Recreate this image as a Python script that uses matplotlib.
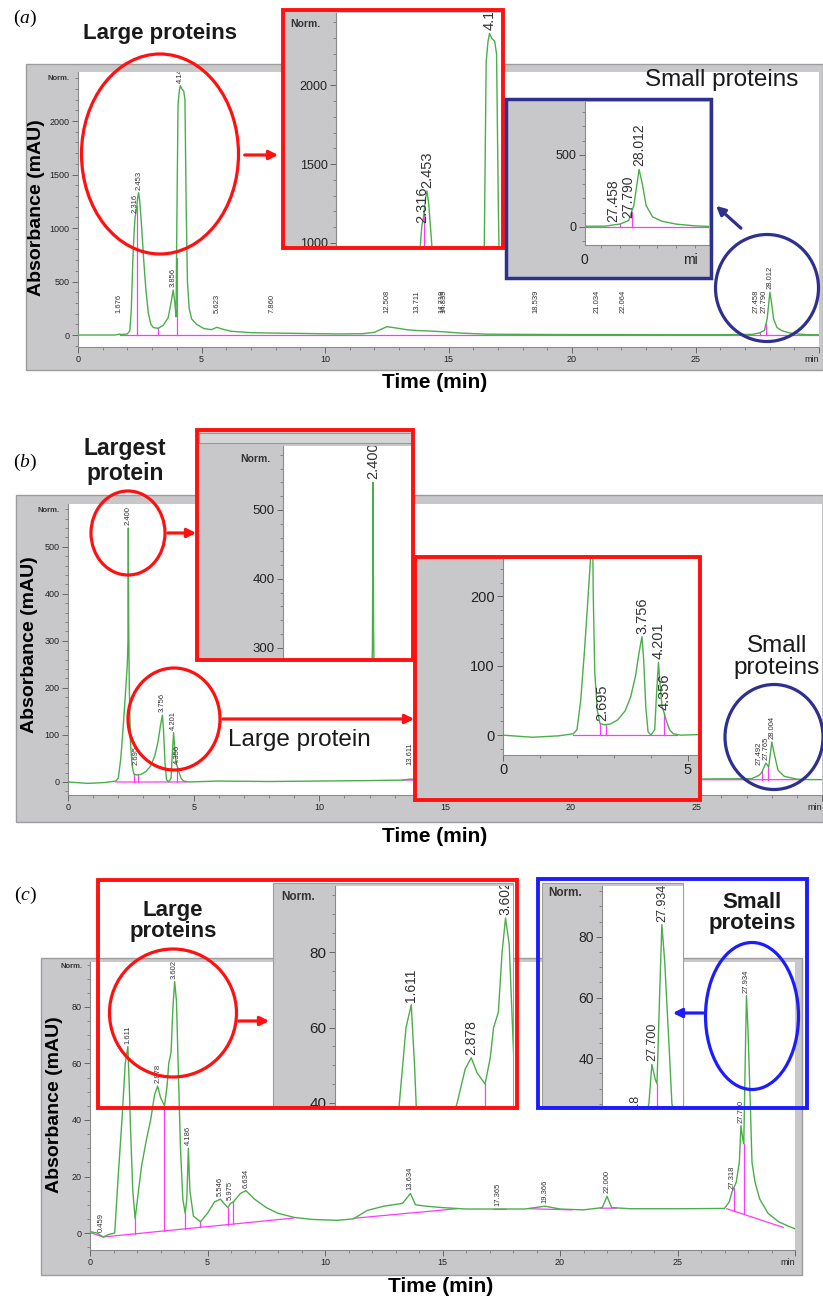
import numpy as np
import matplotlib
matplotlib.use("Agg")
import matplotlib.pyplot as plt
from matplotlib.patches import Rectangle, Ellipse, FancyArrowPatch
from matplotlib.ticker import MultipleLocator, NullLocator
from matplotlib.transforms import Affine2D, offset_copy

plt.rcParams["font.family"] = "Liberation Sans"
plt.rcParams["mathtext.fontset"] = "custom"
plt.rcParams["mathtext.rm"] = "Liberation Serif"
plt.rcParams["mathtext.it"] = "Liberation Serif:italic"

# ---------- data ----------
# panel (a): retention time (min) / absorbance (mAU)
a_time = [0, 1.5, 1.676, 1.8, 2.0, 2.1, 2.16, 2.22, 2.28, 2.316, 2.36, 2.42, 2.453, 2.5, 2.58,
          2.66, 2.75, 2.85, 2.95, 3.05, 3.24, 3.45, 3.65, 3.78, 3.856, 3.92, 3.97, 4.0, 4.05,
          4.1, 4.141, 4.2, 4.28, 4.33, 4.38, 4.43, 4.5, 4.6, 4.8, 5.1, 5.4, 5.623, 5.85, 6.2,
          7.0, 8.0, 9.0, 10.5, 11.5, 12.0, 12.508, 12.9, 13.3, 13.711, 14.2, 14.8, 15.5, 16.5,
          18, 20, 22, 24, 26, 27.3, 27.458, 27.6, 27.79, 27.9, 28.012, 28.08, 28.16, 28.3,
          28.5, 28.8, 29.2, 29.6, 30]
a_abs = [0, 0, 8, 5, 10, 40, 250, 700, 1000, 1110, 1160, 1290, 1330, 1250, 1000,
         700, 420, 200, 100, 70, 62, 90, 160, 320, 420, 300, 170, 1000, 2150,
         2280, 2330, 2300, 2280, 2200, 1200, 500, 250, 150, 100, 60, 50, 72, 55, 35,
         22, 18, 15, 10, 12, 25, 78, 65, 50, 42, 38, 30, 18, 8,
         6, 4, 4, 3, 3, 6, 14, 20, 45, 150, 400, 300, 150, 70,
         40, 20, 8, 3, 2]
a_base_t = [1.7, 30.0]
a_base_v = [0, 0]
a_drops = [2.38, 3.24, 3.99, 27.6, 27.85]
a_peaks = [1.676, 2.316, 2.453, 3.856, 4.141, 5.623, 7.860, 12.508, 13.711, 14.719, 14.835,
           18.539, 21.034, 22.064, 27.458, 27.790, 28.012]

# panel (b)
b_time = [0, 0.8, 1.5, 1.9, 2.0, 2.1, 2.2, 2.3, 2.36, 2.385, 2.40, 2.415, 2.44, 2.48, 2.55,
          2.62, 2.72, 2.9, 3.1, 3.3, 3.45, 3.58, 3.68, 3.756, 3.80, 3.86, 3.92, 4.0, 4.1,
          4.15, 4.201, 4.25, 4.3, 4.356, 4.42, 4.5, 4.6, 4.8, 6, 8, 10, 12, 13.3, 13.6, 14,
          16, 20, 24, 27.2, 27.492, 27.6, 27.765, 27.88, 28.004, 28.1, 28.25, 28.5, 29, 29.5, 30]
b_abs = [0, -3, -1, 2, 8, 50, 120, 200, 250, 300, 540, 330, 200, 90, 35,
         17, 15, 16, 22, 35, 55, 85, 120, 142, 110, 40, 5, 0, 8,
         60, 105, 70, 40, 32, 20, 8, 2, 0, 2, 1, 2, 3, 4, 6, 6,
         7, 7, 6, 7, 14, 20, 40, 32, 85, 60, 25, 12, 6, 5, 5]
b_base_t = [1.9, 4.7, np.nan, 13.3, 29.3]
b_base_v = [0, 0, np.nan, 4, 5]
b_drops = [2.62, 2.78, 4.356, 27.62, 27.85]
b_peaks = [2.400, 2.695, 3.756, 4.201, 4.356, 13.611, 27.492, 27.765, 28.004]

# panel (c)
c_time = [0, 0.3, 0.56, 0.8, 1.05, 1.2, 1.36, 1.5, 1.611, 1.68, 1.72, 1.82, 1.92, 2.05, 2.2,
          2.4, 2.58, 2.75, 2.878, 3.0, 3.17, 3.28, 3.35, 3.45, 3.53, 3.602, 3.68, 3.75, 3.85,
          3.95, 4.05, 4.12, 4.186, 4.25, 4.4, 4.7, 5.0, 5.3, 5.546, 5.75, 5.87, 5.975, 6.1,
          6.4, 6.634, 7.0, 7.5, 8.0, 8.7, 9.5, 10.5, 11.2, 11.8, 12.5, 13.3, 13.634, 13.85,
          14.3, 15.0, 16.0, 17.365, 18.5, 19.366, 20.0, 21.0, 21.8, 22.0, 22.2, 23.0, 25.0,
          27.0, 27.2, 27.318, 27.5, 27.63, 27.7, 27.78, 27.82, 27.88, 27.934, 28.0, 28.1,
          28.17, 28.3, 28.5, 28.85, 29.3, 29.7, 30.0]
c_abs = [0.5, 0, -1.4, -0.5, 0, 20, 40, 60, 66, 50, 38, 15, 5, 14, 24,
         33, 40, 49, 52, 48, 45, 52, 60, 64, 80, 89, 82, 60, 30,
         12, 7, 12, 30, 15, 6, 4, 7, 11, 12, 10, 9, 10.5, 11,
         14, 15, 12, 9, 7, 5.5, 4.8, 4.5, 5, 8, 9.5, 10.5, 14, 10,
         9.5, 9, 8.5, 8.5, 8.5, 9.5, 8.5, 8.2, 9, 13, 9, 8.6, 8.6,
         8.7, 11, 14.5, 18, 25, 38, 33, 31.6, 60, 84, 72, 45,
         25, 18, 12, 7, 4, 2.5, 1.5]
c_base_t = [0.0, 0.56, 8.66, np.nan, 11.2, 15.6, np.nan, 17.2, 17.7, np.nan, 18.7, 20.5,
            np.nan, 21.7, 22.4, np.nan, 27.1, 29.5]
c_base_v = [0.2, -1.4, 5.3, np.nan, 5.2, 8.6, np.nan, 8.4, 8.4, np.nan, 8.6, 8.2,
            np.nan, 8.8, 8.8, np.nan, 8.6, 2.0]
c_drops = [1.92, 3.17, 4.05, 4.7, 5.87, 6.08, 27.4, 27.82]
c_peaks = [0.459, 1.611, 2.878, 3.602, 4.186, 5.546, 5.975, 6.634, 13.634, 17.365, 19.366,
           22.000, 27.318, 27.700, 27.934]

main_xticks = [0, 5, 10, 15, 20, 25, 30]
main_xticklabels = ["0", "5", "10", "15", "20", "25", "min"]

# ---------- figure ----------
W, H = 823, 1300
GREEN = "#4aae4a"
PINK = "#ff38ff"
RED = "#ff1111"
NAVY = "#2e3090"
BLUE = "#1c1cff"
GRAY = "#c8c8cb"

fig = plt.figure(figsize=(W / 100, H / 100), dpi=100)
pix = Affine2D().scale(1 / W, -1 / H).translate(0, 1) + fig.transFigure


def add_ax(x0, y0, x1, y1, z):
    ax = fig.add_axes([x0 / W, 1 - y1 / H, (x1 - x0) / W, (y1 - y0) / H])
    ax.set_zorder(z)
    return ax


def rect(x0, y0, x1, y1, z, fc="none", ec="none", lw=0.0):
    fig.add_artist(Rectangle((x0, y0), x1 - x0, y1 - y0, transform=pix, zorder=z,
                             facecolor=fc, edgecolor=ec, linewidth=lw))


def ftext(x, y, s, **kw):
    kw.setdefault("ha", "center")
    kw.setdefault("va", "center")
    kw.setdefault("zorder", 10)
    fig.text(x, y, s, transform=pix, **kw)


def ellipse(cx, cy, w, h, color):
    fig.add_artist(Ellipse((cx, cy), w, h, transform=pix, fill=False, edgecolor=color,
                           linewidth=2.3, zorder=10))


def arrow(x0, y0, x1, y1, color):
    fig.add_artist(FancyArrowPatch((x0, y0), (x1, y1), transform=pix, arrowstyle="-|>",
                                   mutation_scale=13, color=color, linewidth=2.3, zorder=10))


def style(ax, xlim, ylim, ymaj, ymin, fs, xmaj=None, xmin=None):
    ax.set_xlim(*xlim)
    ax.set_ylim(*ylim)
    ax.set_facecolor("white")
    ax.spines["top"].set_visible(False)
    ax.spines["right"].set_visible(False)
    for s in ("left", "bottom"):
        ax.spines[s].set_color("#8a8a8a")
        ax.spines[s].set_linewidth(0.8)
    ax.yaxis.set_major_locator(MultipleLocator(ymaj))
    ax.yaxis.set_minor_locator(MultipleLocator(ymin))
    if xmaj is None:
        ax.xaxis.set_major_locator(NullLocator())
    else:
        ax.xaxis.set_major_locator(MultipleLocator(xmaj))
    if xmin is None:
        ax.xaxis.set_minor_locator(NullLocator())
    else:
        ax.xaxis.set_minor_locator(MultipleLocator(xmin))
    ax.tick_params(which="major", length=4, width=0.7, color="#666666",
                   labelsize=fs, labelcolor="#222222", pad=2)
    ax.tick_params(which="minor", length=2.5, width=0.6, color="#777777")


def trace(ax, t, v, base_t, base_v, drops, peaks, fs, floor):
    bt = np.array(base_t, float)
    bv = np.array(base_v, float)
    ok = ~np.isnan(bt)
    ax.plot(bt, bv, color=PINK, lw=0.9, zorder=2)
    for d in drops:
        top = np.interp(d, t, v)
        bot = np.interp(d, bt[ok], bv[ok])
        ax.plot([d, d], [bot, top], color=PINK, lw=0.9, zorder=2)
    ax.plot(t, v, color=GREEN, lw=1.0, zorder=3)
    lift = offset_copy(ax.transData, fig=fig, y=3, units="dots")
    for p in peaks:
        ax.text(p, max(np.interp(p, t, v), floor), f"{p:.3f}", transform=lift, rotation=90,
                ha="center", va="bottom", fontsize=fs, color="#333333", clip_on=True, zorder=4)


def main_chart(frame, box, ylim, ymaj, ymin, t, v, bt, bv, drops, peaks, floor, norm_xy):
    rect(*frame, z=-2, fc=GRAY, ec="#9c9c9c", lw=1.0)
    ax = add_ax(*box, z=0)
    style(ax, (0, 30), ylim, ymaj, ymin, 6.5, xmaj=5, xmin=1)
    ax.set_xticks(main_xticks)
    ax.set_xticklabels(main_xticklabels)
    ax.get_xticklabels()[-1].set_ha("right")
    trace(ax, t, v, bt, bv, drops, peaks, 5.5, floor)
    ftext(*norm_xy, "Norm.", fontsize=5.5, fontweight="bold", color="#333333")
    return ax


def inset(gray, box, xlim, ylim, ymaj, ymin, fs, t, v, bt, bv, drops, peaks, lfs,
          xmaj=None, xmin=None):
    rect(*gray, z=4, fc=GRAY, ec="#9c9c9c", lw=0.8)
    ax = add_ax(*box, z=5)
    style(ax, xlim, ylim, ymaj, ymin, fs, xmaj=xmaj, xmin=xmin)
    if xmaj is None:
        ax.spines["bottom"].set_visible(xmin is not None)
    trace(ax, t, v, bt, bv, drops, peaks, lfs, -1e9)
    return ax


# ===== panel (a) =====
ftext(25, 18, r"$(a)$", fontsize=14)
main_chart((26, 64, 823, 370), (78, 72, 819, 347), (-112, 2458), 500, 100,
           a_time, a_abs, a_base_t, a_base_v, a_drops, a_peaks, 180, (59, 79))
ftext(37, 208, "Absorbance (mAU)", rotation=90, fontsize=14, fontweight="bold")
ftext(435, 383, "Time (min)", fontsize=15, fontweight="bold")
ftext(160, 33, "Large proteins", fontsize=16, fontweight="bold", color="#1a1a1a")
ftext(722, 80, "Small proteins", fontsize=17.5, color="#1a1a1a")
ellipse(160, 154, 157, 200, RED)
arrow(242, 155, 281, 155, RED)
inset((283, 10, 503, 248), (336, 13, 501, 246), (0, 4.45), (980, 2460), 500, 100, 9,
      a_time, a_abs, a_base_t, a_base_v, a_drops, a_peaks, 10.5)
ftext(305, 24, "Norm.", fontsize=7.5, fontweight="bold", color="#333333")
rect(283, 10, 503, 248, z=9, ec=RED, lw=2.8)
inset((506, 99, 711, 278), (585, 102, 709, 245), (26.86, 29.5), (-125, 868), 500, 100, 9,
      a_time, a_abs, a_base_t, a_base_v, a_drops, a_peaks, 10, xmin=0.4)
ftext(584, 260, "0", fontsize=10, color="#222222")
ftext(690, 260, "mi", fontsize=10, color="#222222")
rect(506, 99, 711, 278, z=9, ec=NAVY, lw=2.5)
ellipse(767, 288, 103, 107, NAVY)
arrow(743, 230, 714, 204, NAVY)

# ===== panel (b) =====
ftext(25, 462, r"$(b)$", fontsize=14)
main_chart((16, 495, 823, 822), (68, 504, 822, 795), (-27.7, 591), 100, 20,
           b_time, b_abs, b_base_t, b_base_v, b_drops, b_peaks, 30, (49, 511))
ftext(30, 645, "Absorbance (mAU)", rotation=90, fontsize=14, fontweight="bold")
ftext(435, 837, "Time (min)", fontsize=15, fontweight="bold")
ftext(125, 461, "Largest\nprotein", fontsize=16.5, fontweight="bold", color="#1a1a1a",
      linespacing=1.1)
ftext(299, 740, "Large protein", fontsize=17.5, color="#1a1a1a")
ftext(777, 657, "Small\nproteins", fontsize=17.5, color="#1a1a1a", linespacing=1.05)
ellipse(128, 533, 74, 84, RED)
arrow(165, 533, 199, 533, RED)
ellipse(174, 719, 92, 102, RED)
arrow(220, 719, 417, 719, RED)
ellipse(774, 737, 98, 105, NAVY)
inset((197, 430, 413, 660), (283, 446, 412, 660), (0, 3.44), (282, 593), 100, 20, 9.5,
      b_time, b_abs, b_base_t, b_base_v, b_drops, b_peaks, 10.5)
rect(199, 433, 412, 443, z=4.5, fc="#d6d6d6", ec="#999999", lw=0.8)
ftext(255, 459, "Norm.", fontsize=7.5, fontweight="bold", color="#333333")
rect(197, 430, 413, 660, z=9, ec=RED, lw=2.8)
inset((415, 557, 700, 800), (503, 559, 698, 755), (0, 5.27), (-28.6, 254), 100, 20, 10.5,
      b_time, b_abs, b_base_t, b_base_v, b_drops, b_peaks, 10.5, xmaj=5, xmin=1)
rect(415, 557, 700, 800, z=9, ec=RED, lw=2.8)

# ===== panel (c) =====
ftext(25, 895, r"$(c)$", fontsize=14)
main_chart((41, 958, 802, 1275), (90, 962, 795, 1250), (-6.0, 95.9), 20, 5,
           c_time, c_abs, c_base_t, c_base_v, c_drops, c_peaks, -1e9, (72, 967))
ftext(55, 1105, "Absorbance (mAU)", rotation=90, fontsize=14, fontweight="bold")
ftext(441, 1287, "Time (min)", fontsize=15, fontweight="bold")
ftext(173, 921, "Large\nproteins", fontsize=16, fontweight="bold", color="#1a1a1a",
      linespacing=1.05)
ftext(752, 913, "Small\nproteins", fontsize=16, fontweight="bold", color="#1a1a1a",
      linespacing=1.05)
ellipse(173, 1013, 127, 128, RED)
arrow(236, 1021, 272, 1021, RED)
inset((273, 883, 513, 1106), (335, 886, 513, 1106), (0, 3.76), (39.2, 97.5), 20, 5, 11,
      c_time, c_abs, c_base_t, c_base_v, c_drops, c_peaks, 10)
ftext(298, 897, "Norm.", fontsize=8.5, fontweight="bold", color="#333333")
rect(98, 880, 517, 1108, z=9, ec=RED, lw=2.8)
inset((542, 883, 683, 1106), (602, 886, 683, 1106), (26.53, 28.43), (24.3, 96.7), 20, 5, 10,
      c_time, c_abs, c_base_t, c_base_v, c_drops, c_peaks, 9)
ftext(565, 893, "Norm.", fontsize=8.5, fontweight="bold", color="#333333")
rect(538, 879, 807, 1108, z=9, ec=BLUE, lw=2.8)
ellipse(752, 1016, 93, 147, BLUE)
arrow(706, 1013, 670, 1013, BLUE)

fig.savefig("out.png", dpi=100)
